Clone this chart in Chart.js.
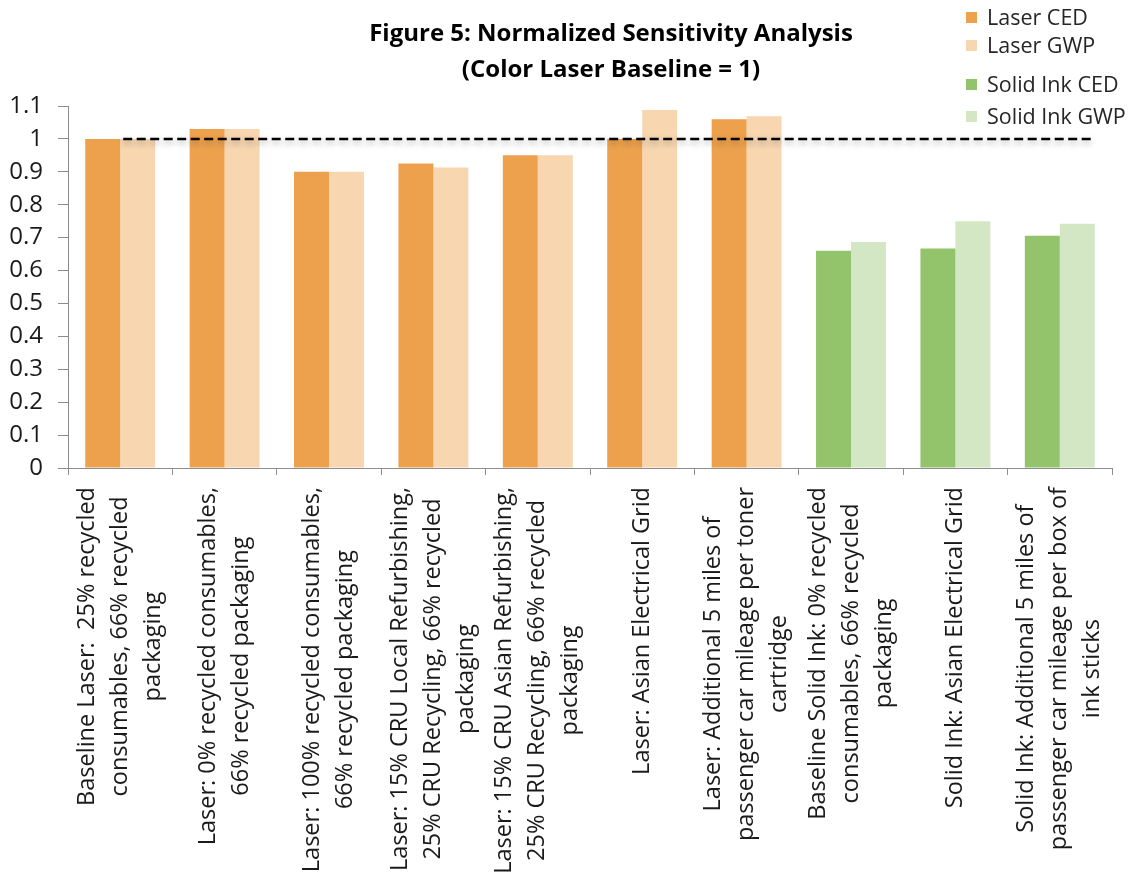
<!DOCTYPE html>
<html>
<head>
<meta charset="utf-8">
<script src="https://cdn.jsdelivr.net/npm/chart.js@4.4.1/dist/chart.umd.min.js"></script>
<style>
  html, body { margin: 0; padding: 0; background: #fff; }
  #wrap { position: relative; width: 1144px; height: 876px; }
  #title {
    position: absolute; left: 261px; width: 700px; top: 14px;
    text-align: center; font: bold 24px "Open Sans", sans-serif; line-height: 36px; color: #000;
  }
  #legend { position: absolute; left: 966px; top: 0; font: 21.5px "Open Sans", sans-serif; color: #262626; }
  .item { position: absolute; white-space: nowrap; line-height: 26px; }
  .box { display: inline-block; width: 11px; height: 11px; margin-right: 10px; vertical-align: 2px; }
</style>
</head>
<body>
<div id="wrap">
  <canvas id="chart" width="1144" height="876"></canvas>
  <div id="title">Figure 5: Normalized Sensitivity Analysis<br>(Color Laser Baseline = 1)</div>
  <div id="legend"></div>
</div>
<script>
// scenario labels, split in lines as in the figure
const categories = [
  ["Baseline Laser:  25% recycled", "consumables, 66% recycled", "packaging"],
  ["Laser: 0% recycled consumables,", "66% recycled packaging"],
  ["Laser: 100% recycled consumables,", "66% recycled packaging"],
  ["Laser: 15% CRU Local Refurbishing,", "25% CRU Recycling, 66% recycled", "packaging"],
  ["Laser: 15% CRU Asian Refurbishing,", "25% CRU Recycling, 66% recycled", "packaging"],
  ["Laser: Asian Electrical Grid"],
  ["Laser: Additional 5 miles of", "passenger car mileage per toner", "cartridge"],
  ["Baseline Solid Ink: 0% recycled", "consumables, 66% recycled", "packaging"],
  ["Solid Ink: Asian Electrical Grid"],
  ["Solid Ink: Additional 5 miles of", "passenger car mileage per box of", "ink sticks"]
];
const printer = ["laser", "laser", "laser", "laser", "laser", "laser", "laser", "solid", "solid", "solid"];
const cedValues = [1.00, 1.03, 0.90, 0.925, 0.95, 1.00, 1.06, 0.66, 0.667, 0.706];
const gwpValues = [1.00, 1.03, 0.90, 0.913, 0.95, 1.088, 1.069, 0.687, 0.75, 0.742];
const baseline = 1;
const yTicksMax = 1.1;

const colors = {
  laser: { ced: "#EDA14D", gwp: "#F7D6B0" },
  solid: { ced: "#93C46B", gwp: "#D4E7C5" }
};
const legendItems = [
  { label: "Laser CED", color: colors.laser.ced },
  { label: "Laser GWP", color: colors.laser.gwp },
  { label: "Solid Ink CED", color: colors.solid.ced },
  { label: "Solid Ink GWP", color: colors.solid.gwp }
];
const legendTops = [4, 32, 71, 103];

const legend = document.getElementById("legend");
legendItems.forEach((it, i) => {
  const d = document.createElement("div");
  d.className = "item";
  d.style.top = legendTops[i] + "px";
  d.innerHTML = '<span class="box" style="background:' + it.color + '"></span>' + it.label;
  legend.appendChild(d);
});

const axisGrey = "#8c8c8c";
const textColor = "#1a1a1a";

const baselinePlugin = {
  id: "baseline",
  afterDatasetsDraw(chart) {
    const ctx = chart.ctx;
    const y = chart.scales.y.getPixelForValue(baseline);
    const first = chart.getDatasetMeta(0).data[0];
    const last = chart.getDatasetMeta(1).data[categories.length - 1];
    ctx.save();
    ctx.shadowColor = "rgba(0,0,0,0.35)";
    ctx.shadowBlur = 6;
    ctx.shadowOffsetY = 3;
    ctx.setLineDash([9, 4.5]);
    ctx.lineWidth = 2.5;
    ctx.strokeStyle = "#000";
    ctx.beginPath();
    ctx.moveTo(first.x + first.width / 2 + 3, y);
    ctx.lineTo(last.x + last.width / 2, y);
    ctx.stroke();
    ctx.restore();
  }
};

// rotated, centred multi-line category labels
const xLabelPlugin = {
  id: "xLabels",
  afterDraw(chart) {
    const ctx = chart.ctx;
    const x = chart.scales.x;
    const lineHeight = 33;
    const top = x.top + 19;
    ctx.save();
    ctx.font = "23.5px 'Open Sans', sans-serif";
    ctx.fillStyle = textColor;
    ctx.textAlign = "center";
    ctx.textBaseline = "middle";
    categories.forEach((lines, i) => {
      const cx = x.getPixelForValue(i);
      const maxW = Math.max(...lines.map(l => ctx.measureText(l).width));
      const mid = top + maxW / 2;
      lines.forEach((line, j) => {
        const lx = cx + (j - (lines.length - 1) / 2) * lineHeight;
        ctx.save();
        ctx.translate(lx, mid);
        ctx.rotate(-Math.PI / 2);
        ctx.fillText(line, 0, 0);
        ctx.restore();
      });
    });
    ctx.restore();
  }
};

new Chart(document.getElementById("chart"), {
  type: "bar",
  data: {
    labels: categories.map(l => l.join(" ")),
    datasets: [
      {
        label: "CED",
        data: cedValues,
        backgroundColor: printer.map(p => colors[p].ced),
        categoryPercentage: 0.67,
        barPercentage: 1.0
      },
      {
        label: "GWP",
        data: gwpValues,
        backgroundColor: printer.map(p => colors[p].gwp),
        categoryPercentage: 0.67,
        barPercentage: 1.0
      }
    ]
  },
  options: {
    responsive: false,
    animation: false,
    layout: { padding: { top: 106, right: 32, left: 0, bottom: 0 } },
    plugins: {
      legend: { display: false },
      title: { display: false },
      tooltip: { enabled: false }
    },
    scales: {
      x: {
        ticks: { display: false },
        grid: { offset: true, drawOnChartArea: false, drawTicks: true, tickLength: 7, color: axisGrey },
        border: { color: axisGrey },
        afterFit(scale) { scale.height = 408; }
      },
      y: {
        min: 0,
        max: yTicksMax,
        ticks: {
          stepSize: 0.1,
          padding: 15,
          color: textColor,
          font: { family: "Open Sans", size: 24 },
          callback: v => String(Math.round(v * 10) / 10)
        },
        grid: { drawOnChartArea: false, drawTicks: true, tickLength: 10, color: axisGrey },
        border: { color: axisGrey },
        afterFit(scale) { scale.width = 68; }
      }
    }
  },
  plugins: [baselinePlugin, xLabelPlugin]
});
</script>
</body>
</html>
